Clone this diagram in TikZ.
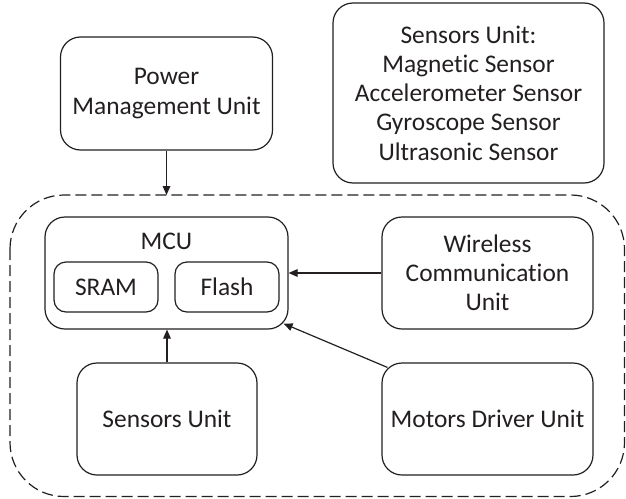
\documentclass[tikz,border=0pt]{standalone}
\usepackage{fontspec}
\setmainfont{Carlito}[RawFeature={-liga;-clig;-dlig}]
\usetikzlibrary{arrows.meta}
\definecolor{ink}{HTML}{231F20}
\begin{document}
\begin{tikzpicture}[x=0.5pt,y=-0.5pt,
  box/.style={draw=ink, line width=0.6pt, rounded corners=10pt, align=center,
    inner sep=0pt, text=ink, font=\fontsize{12.7pt}{14.6pt}\selectfont},
  membox/.style={box, rounded corners=6pt, minimum width=52pt, minimum height=25pt},
  conn/.style={draw=ink, line width=0.6pt, -{Triangle[length=4.5pt,width=3.8pt]}},
  lbl/.style={text=ink, inner sep=0pt, font=\fontsize{12.7pt}{14.6pt}\selectfont}]
\useasboundingbox (0,0) rectangle (626,498);
% container
\draw[ink, line width=0.6pt, dash pattern=on 5.5pt off 2.5pt, rounded corners=27pt]
  (10,195) rectangle (624.5,496.5);
\coordinate (ctop) at (166.5,195);
% nodes
\node[box, minimum width=106pt, minimum height=56.5pt] (power) at (166.5,93.5) {Power\\Management Unit};
\node[box, minimum width=135.5pt, minimum height=90pt] (sensall) at (468.5,93) {Sensors Unit:\\Magnetic Sensor\\Accelerometer Sensor\\Gyroscope Sensor\\Ultrasonic Sensor};
\node[box, minimum width=121.5pt, minimum height=56pt] (mcu) at (166.5,273) {};
\node[lbl] (mculbl) at (166.5,241) {MCU};
\node[membox] (sram) at (106,287) {SRAM};
\node[membox] (flash) at (227,287) {Flash};
\node[box, minimum width=90pt, minimum height=56pt] (sens) at (167,419) {Sensors Unit};
\node[box, minimum width=105.5pt, minimum height=56pt] (wcu) at (487.5,273) {Wireless\\Communication\\Unit};
\node[box, minimum width=105.5pt, minimum height=56pt] (motor) at (487.5,419) {Motors Driver Unit};
% connectors
\draw[conn] (power.south) -- (ctop);
\draw[conn] (sens.north) -- (sens.north |- mcu.south);
\draw[conn] (wcu.west) -- (mcu.east);
\draw[conn] ([shift={(3pt,-2.5pt)}]motor.north west) -- ([shift={(-2.5pt,3pt)}]mcu.south east);
\end{tikzpicture}
\end{document}
